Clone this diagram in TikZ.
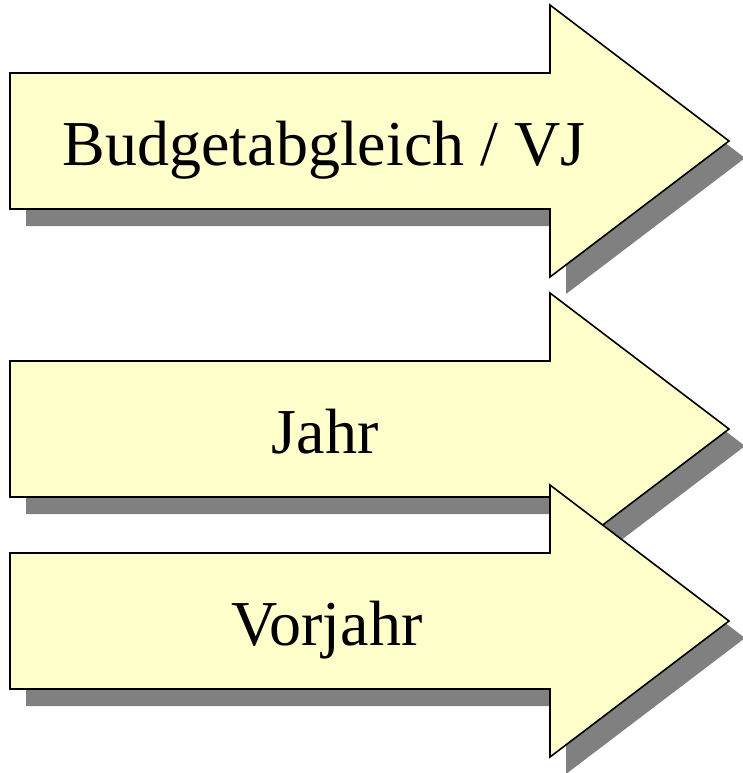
\documentclass[tikz,border=0pt]{standalone}
\usepackage{fontspec}
\setmainfont{Liberation Serif}
\usepackage{xcolor}
\definecolor{arrowfill}{HTML}{FFFFCC}
\definecolor{shadowgray}{HTML}{808080}
\definecolor{textprimary}{HTML}{000000}
\tikzset{
  arrowbody/.style={fill=arrowfill,draw=black,line width=1.6pt,line join=miter},
  arrowshadow/.style={fill=shadowgray,shift={(16,17)}},
  arrowlabel/.style={text=textprimary,font=\fontsize{64}{76}\selectfont,anchor=base}
}

\begin{document}
\begin{tikzpicture}[x=1pt,y=-1pt]
    \useasboundingbox (0,0) rectangle (742,773);

    % Budgetabgleich / VJ
    \fill[arrowshadow] (10,73) -- (550,73) -- (550,5) -- (729,141) -- (550,277) -- (550,209) -- (10,209) -- cycle;
    \draw[arrowbody] (10,73) -- (550,73) -- (550,5) -- (729,141) -- (550,277) -- (550,209) -- (10,209) -- cycle;
    \node[arrowlabel] (budget) at (324,165) {Budgetabgleich / VJ};

    % Jahr
    \fill[arrowshadow] (10,361) -- (550,361) -- (550,293) -- (729,429) -- (550,565) -- (550,497) -- (10,497) -- cycle;
    \draw[arrowbody] (10,361) -- (550,361) -- (550,293) -- (729,429) -- (550,565) -- (550,497) -- (10,497) -- cycle;
    \node[arrowlabel] (jahr) at (325,453) {Jahr};

    % Vorjahr
    \fill[arrowshadow] (10,553) -- (550,553) -- (550,485) -- (729,621) -- (550,757) -- (550,689) -- (10,689) -- cycle;
    \draw[arrowbody] (10,553) -- (550,553) -- (550,485) -- (729,621) -- (550,757) -- (550,689) -- (10,689) -- cycle;
    \node[arrowlabel] (vorjahr) at (327,645) {Vorjahr};
  \end{tikzpicture}
\end{document}
